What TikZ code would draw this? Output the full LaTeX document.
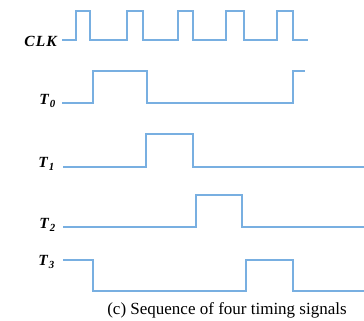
\documentclass[tikz,border=0pt]{standalone}
\usepackage{fontspec}
\setmainfont{Liberation Serif}
\begin{document}
\begin{tikzpicture}[x=1pt,y=-1pt,
  wave/.style={draw=wavecol,line width=1.1pt},
  lbl/.style={anchor=east,inner sep=0pt,font=\fontsize{15.5}{15.5}\selectfont\bfseries\itshape},
  ]
\definecolor{wavecol}{RGB}{120,175,225}
\useasboundingbox (0,0) rectangle (364,321);
% labels
\node[lbl] (clk) at (57,41) {C\kern1.2pt L\kern1.2pt K};
\node[lbl] (t0) at (56,101) {T\kern1pt\textsubscript{0}};
\node[lbl] (t1) at (55,164) {T\kern1pt\textsubscript{1}};
\node[lbl] (t2) at (56,225) {T\kern1pt\textsubscript{2}};
\node[lbl] (t3) at (55,262) {T\kern1pt\textsubscript{3}};
% CLK
\draw[wave] (62,40) -- (76,40) -- (76,11) -- (90,11) -- (90,40)
  -- (127,40) -- (127,11) -- (143,11) -- (143,40)
  -- (178,40) -- (178,11) -- (193,11) -- (193,40)
  -- (226,40) -- (226,11) -- (244,11) -- (244,40)
  -- (277,40) -- (277,11) -- (293,11) -- (293,40) -- (308,40);
% T0
\draw[wave] (62,103) -- (93,103) -- (93,71) -- (147,71) -- (147,103)
  -- (293,103) -- (293,71) -- (305,71);
% T1
\draw[wave] (63,167) -- (146,167) -- (146,134) -- (193,134) -- (193,167) -- (364,167);
% T2
\draw[wave] (63,227) -- (196,227) -- (196,195) -- (242,195) -- (242,227) -- (364,227);
% T3
\draw[wave] (63,260) -- (93,260) -- (93,291) -- (246,291) -- (246,260) -- (293,260) -- (293,291) -- (364,291);
% caption
\node[font=\fontsize{17}{17}\selectfont] (cap) at (227,310) {(c) Sequence of four timing signals};
\end{tikzpicture}
\end{document}
